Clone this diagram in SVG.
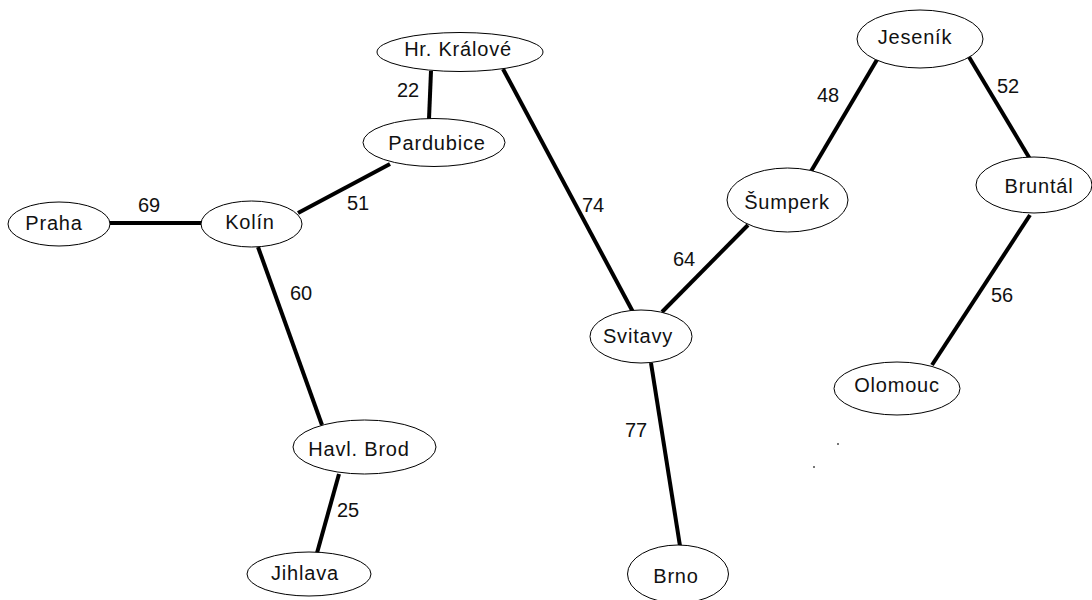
<svg xmlns="http://www.w3.org/2000/svg" width="1092" height="600" viewBox="0 0 1092 600">
  <style>
    .edge { stroke: #000; stroke-width: 4; stroke-linecap: butt; fill: none; }
    .city ellipse { fill: #fff; stroke: #000; stroke-width: 1; }
    .city text, .w { font-family: "Liberation Sans", Arial, sans-serif; font-size: 20px; fill: #111; text-anchor: middle; letter-spacing: 0.8px; }
    .w { letter-spacing: 0; }
  </style>
  <rect width="1092" height="600" fill="#fff"/>

  <!-- roads with distances -->
  <g id="connectors">
    <line class="edge" x1="110" y1="223" x2="202" y2="223"/>
    <line class="edge" x1="298" y1="213" x2="390" y2="164"/>
    <line class="edge" x1="431" y1="71" x2="429" y2="119"/>
    <line class="edge" x1="503" y1="69" x2="633" y2="312"/>
    <line class="edge" x1="258" y1="247" x2="322" y2="425"/>
    <line class="edge" x1="339" y1="474" x2="317" y2="553"/>
    <line class="edge" x1="651" y1="363" x2="680" y2="546"/>
    <line class="edge" x1="748" y1="225" x2="662" y2="312"/>
    <line class="edge" x1="878" y1="58" x2="810" y2="173"/>
    <line class="edge" x1="969" y1="57" x2="1030" y2="159"/>
    <line class="edge" x1="1030" y1="215" x2="932" y2="365"/>

    <text class="w" x="149" y="212">69</text>
    <text class="w" x="358" y="210">51</text>
    <text class="w" x="408" y="97">22</text>
    <text class="w" x="593" y="212">74</text>
    <text class="w" x="301" y="300">60</text>
    <text class="w" x="348" y="517">25</text>
    <text class="w" x="636" y="437">77</text>
    <text class="w" x="684" y="266">64</text>
    <text class="w" x="828" y="102">48</text>
    <text class="w" x="1008" y="93">52</text>
    <text class="w" x="1002" y="302">56</text>
  </g>

  <g id="praha" class="city"><ellipse cx="59" cy="224" rx="51" ry="22"/><text x="54" y="230">Praha</text></g>
  <g id="kolin" class="city"><ellipse cx="251.5" cy="224" rx="50.5" ry="23"/><text x="250" y="229">Kolín</text></g>
  <g id="pardubice" class="city"><ellipse cx="434" cy="142.5" rx="71" ry="24"/><text x="437" y="150">Pardubice</text></g>
  <g id="hradec-kralove" class="city"><ellipse cx="460" cy="52" rx="83" ry="19.5"/><text x="458" y="56">Hr. Králové</text></g>
  <g id="havlickuv-brod" class="city"><ellipse cx="364.5" cy="447" rx="71.5" ry="27"/><text x="359" y="456">Havl. Brod</text></g>
  <g id="jihlava" class="city"><ellipse cx="309" cy="574" rx="62" ry="22"/><text x="305" y="580">Jihlava</text></g>
  <g id="svitavy" class="city"><ellipse cx="641" cy="336.5" rx="51" ry="26.5"/><text x="638" y="343">Svitavy</text></g>
  <g id="brno" class="city"><ellipse cx="678" cy="574" rx="50.5" ry="29"/><text x="676" y="583">Brno</text></g>
  <g id="sumperk" class="city"><ellipse cx="787.5" cy="200" rx="60.5" ry="32"/><text x="787" y="209">Šumperk</text></g>
  <g id="jesenik" class="city"><ellipse cx="920" cy="39" rx="63" ry="29"/><text x="915" y="44">Jeseník</text></g>
  <g id="bruntal" class="city"><ellipse cx="1034" cy="185" rx="58" ry="28"/><text x="1039" y="193">Bruntál</text></g>
  <g id="olomouc" class="city"><ellipse cx="897" cy="388.5" rx="63" ry="26.5"/><text x="897" y="392">Olomouc</text></g>

  <!-- stray specks -->
  <rect x="837" y="443" width="2" height="2" fill="#777"/>
  <rect x="813" y="466" width="2" height="2" fill="#777"/>
</svg>
